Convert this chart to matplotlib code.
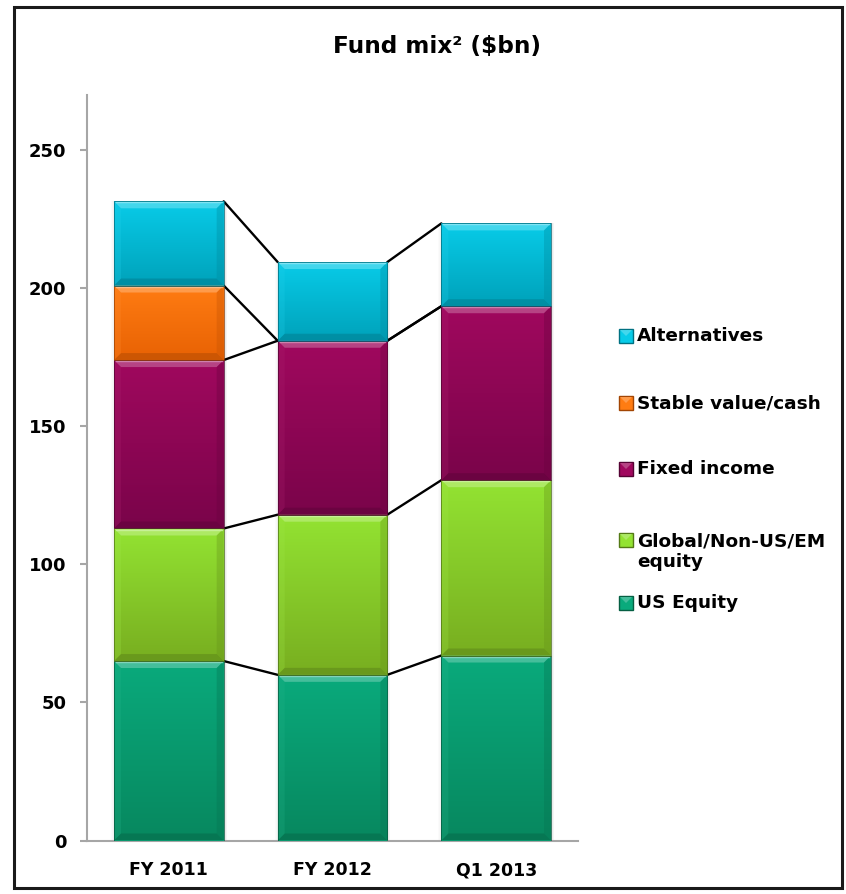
import numpy as np
import matplotlib
matplotlib.use("Agg")
import matplotlib.pyplot as plt
from matplotlib.patches import Rectangle, Polygon
from matplotlib.colors import to_rgb

# ---- data ($bn) ----
periods = ["FY 2011", "FY 2012", "Q1 2013"]
series_names = ["US Equity", "Global/Non-US/EM\nequity", "Fixed income",
                "Stable value/cash", "Alternatives"]
us_equity = [65.0, 60.0, 67.0]
global_equity = [48.0, 58.0, 63.5]
fixed_income = [61.0, 63.0, 63.0]
stable_value = [27.0, 0.0, 0.0]
alternatives = [30.5, 28.5, 30.0]
y_ticks = [0, 50, 100, 150, 200, 250]

series_values = [us_equity, global_equity, fixed_income, stable_value, alternatives]

# (top colour, bottom colour) of each segment's vertical gradient
series_colors = [
    ("#0aaa7c", "#07885f"),
    ("#93e332", "#78ae20"),
    ("#a0085e", "#7a044a"),
    ("#ff7c12", "#e86204"),
    ("#08cbe8", "#00a2ba"),
]

W, H, DPI = 846, 894, 100
plt.rcParams["font.family"] = ["DejaVu Sans"]
plt.rcParams["font.weight"] = "bold"

fig = plt.figure(figsize=(W / DPI, H / DPI), dpi=DPI)
fig.patch.set_facecolor("white")
ax = fig.add_axes([87 / W, 1 - 840.5 / H, (578 - 87) / W, (840.5 - 95) / H])
XLIM, YLIM = (-0.5, 2.5), (0, 270)
ax.set_xlim(*XLIM)
ax.set_ylim(*YLIM)

bar_width = 0.67
x = np.arange(len(periods))

# pixel -> data conversion for the bevel size
px_x = (XLIM[1] - XLIM[0]) / (578 - 87)
px_y = (YLIM[1] - YLIM[0]) / (840.5 - 95)


def shade(c, f):
    r = np.array(to_rgb(c))
    if f >= 0:
        return tuple(r + (1 - r) * f)
    return tuple(r * (1 + f))


def bevel_box(axis, x0, y0, x1, y1, top, bottom, bx, by, patch, z):
    """Vertical gradient fill plus bevelled edges inside a rectangle."""
    n = 64
    t = np.linspace(0, 1, n)[:, None]
    ct, cb = np.array(to_rgb(top)), np.array(to_rgb(bottom))
    grad = (ct * (1 - t) + cb * t)[:, None, :]
    im = axis.imshow(grad, extent=[x0, x1, y0, y1], origin="upper",
                     aspect="auto", interpolation="bilinear", zorder=z + 0.1)
    im.set_clip_path(patch)
    by = min(by, (y1 - y0) / 2)
    faces = [
        ([(x0, y1), (x1, y1), (x1 - bx, y1 - by), (x0 + bx, y1 - by)],
         shade(top, 0.35), 0.7),
        ([(x0, y0), (x1, y0), (x1 - bx, y0 + by), (x0 + bx, y0 + by)],
         shade(bottom, -0.2), 0.6),
        ([(x0, y0), (x0, y1), (x0 + bx, y1 - by), (x0 + bx, y0 + by)],
         shade(top, 0.1), 0.25),
        ([(x1, y0), (x1, y1), (x1 - bx, y1 - by), (x1 - bx, y0 + by)],
         shade(bottom, -0.15), 0.35),
    ]
    for pts, col, a in faces:
        axis.add_patch(Polygon(pts, closed=True, facecolor=col, edgecolor="none",
                               alpha=a, zorder=z + 0.2))
    # thin bright line along the very top edge
    axis.plot([x0 + bx * 0.3, x1 - bx * 0.3], [y1 - by * 0.15] * 2,
              color=shade(top, 0.55), linewidth=1.0, alpha=0.8, zorder=z + 0.25)
    axis.add_patch(Rectangle((x0, y0), x1 - x0, y1 - y0, facecolor="none",
                             edgecolor=shade(bottom, -0.35), linewidth=0.5,
                             zorder=z + 0.3))


# stacked bars
bottoms = np.zeros(len(periods))
boundaries = []
for vals, (ctop, cbot) in zip(series_values, series_colors):
    vals = np.asarray(vals)
    bars = ax.bar(x, vals, bar_width, bottom=bottoms, color=ctop,
                  linewidth=0, zorder=3)
    for rect, v in zip(bars.patches, vals):
        if v <= 0:
            continue
        x0, y0 = rect.get_x(), rect.get_y()
        x1, y1 = x0 + rect.get_width(), y0 + rect.get_height()
        bevel_box(ax, x0, y0, x1, y1, ctop, cbot, 7 * px_x, 7 * px_y, rect, 3)
    bottoms = bottoms + vals
    boundaries.append(bottoms.copy())

# soft drop shadow beside each full bar
for xi, total in zip(x, bottoms):
    for k, a in enumerate([0.25, 0.13, 0.06]):
        ax.add_patch(Rectangle((xi + bar_width / 2 + k * px_x, 0), px_x, total,
                               facecolor="#555555", edgecolor="none",
                               alpha=a, zorder=2))
        ax.add_patch(Rectangle((xi - bar_width / 2 - (k + 1) * px_x, 0), px_x,
                               total, facecolor="#888888", edgecolor="none",
                               alpha=a * 0.5, zorder=2))

# connector lines between neighbouring bars at each stack boundary
for level in boundaries:
    for i in range(len(periods) - 1):
        ax.plot([x[i] + bar_width / 2, x[i + 1] - bar_width / 2],
                [level[i], level[i + 1]], color="black", linewidth=1.7,
                solid_capstyle="round", zorder=2.5)

# axes styling
for side in ("top", "right"):
    ax.spines[side].set_visible(False)
for side in ("left", "bottom"):
    ax.spines[side].set_color("#a6a6a6")
    ax.spines[side].set_linewidth(1.5)
ax.set_yticks(y_ticks)
ax.set_yticklabels([str(v) for v in y_ticks])
ax.set_xticks(x)
ax.set_xticklabels(periods)
ax.tick_params(axis="y", direction="out", length=5, width=1.5, color="#a6a6a6",
               pad=10, labelsize=13)
ax.tick_params(axis="x", length=0, pad=15, labelsize=12.5)
for lab in ax.get_xticklabels() + ax.get_yticklabels():
    lab.set_fontweight("bold")

# title
fig.text(437 / W, 1 - 47 / H, "Fund mix² ($bn)", ha="center", va="center",
         fontsize=16.7, fontweight="bold")

# overlay in pixel coordinates for the legend and the frame
lax = fig.add_axes([0, 0, 1, 1])
lax.set_xlim(0, W)
lax.set_ylim(H, 0)
lax.axis("off")

legend_rows = [603, 540, 469, 403, 336]
legend_text_y = [603, 551.5, 469, 403, 336]
for name, (ctop, cbot), ry, ty in zip(series_names, series_colors,
                                        legend_rows, legend_text_y):
    lax.add_patch(Rectangle((619, ry - 7), 14, 14, facecolor=ctop,
                            edgecolor=shade(cbot, -0.3), linewidth=1.0,
                            zorder=3))
    lax.add_patch(Polygon([(620, ry - 6), (632, ry - 6), (626, ry)],
                          closed=True, facecolor=shade(ctop, 0.3),
                          edgecolor="none", alpha=0.8, zorder=3.5))
    lax.text(637, ty, name, ha="left", va="center", fontsize=13.3,
             fontweight="bold", linespacing=1.2)

lax.add_patch(Rectangle((14, 7), 828, 881, fill=False, edgecolor="#1a1a1a",
                        linewidth=2.2, zorder=10))

fig.savefig("out.png", dpi=DPI)
